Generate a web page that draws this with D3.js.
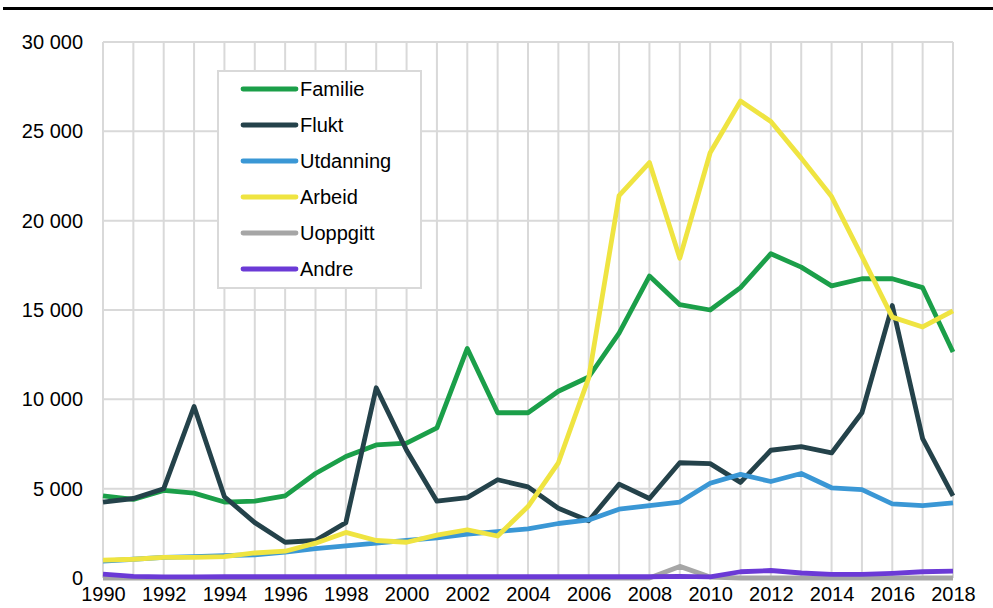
<!DOCTYPE html>
<html><head><meta charset="utf-8">
<script src="https://cdn.jsdelivr.net/npm/d3@7"></script>
<style>body{margin:0;background:#fff}svg{display:block;font-family:"Liberation Sans",Arial,sans-serif}</style>
</head><body><svg id="c" width="993" height="608"></svg>
<script>
const years = d3.range(1990, 2019);
const xTickLabels = [1990,1992,1994,1996,1998,2000,2002,2004,2006,2008,2010,2012,2014,2016,2018];
const yTicks = [0,5000,10000,15000,20000,25000,30000];
const seriesNames = ["Familie","Flukt","Utdanning","Arbeid","Uoppgitt","Andre"];
const seriesColors = ["#1b9f49","#24424a","#3a97d5","#efe441","#a6a6a6","#6b3ad6"];
const familie = [4600,4400,4900,4750,4250,4300,4600,5850,6800,7450,7550,8400,12850,9250,9250,10450,11250,13700,16900,15300,15000,16250,18150,17400,16350,16750,16750,16250,12650];
const flukt = [4250,4450,5000,9600,4550,3100,2000,2100,3100,10650,7150,4300,4500,5500,5100,3900,3200,5250,4450,6450,6400,5350,7150,7350,7000,9250,15250,7800,4600];
const utdanning = [950,1050,1150,1200,1250,1300,1450,1650,1800,1950,2100,2250,2450,2600,2750,3050,3250,3850,4050,4250,5300,5800,5400,5850,5050,4950,4150,4050,4200];
const arbeid = [1000,1050,1150,1150,1200,1400,1500,1950,2550,2100,2000,2400,2700,2350,4000,6450,11200,21400,23250,17900,23800,26700,25550,23500,21350,18000,14600,14050,14950];
const uoppgitt = [0,0,0,0,0,0,0,0,0,0,0,0,0,0,0,0,0,0,0,650,50,0,0,0,0,0,0,0,0];
const andre = [220,90,60,60,70,70,70,70,70,70,70,70,70,70,70,70,70,70,70,90,60,350,420,280,200,200,260,350,380];
const allSeries = [familie, flukt, utdanning, arbeid, uoppgitt, andre];

const svg = d3.select("#c");
const x = d3.scaleLinear().domain([1990,2018]).range([103,953]);
const y = d3.scaleLinear().domain([0,30000]).range([578,42]);

// title rule
svg.append("line").attr("x1",3).attr("x2",993).attr("y1",8.5).attr("y2",8.5).attr("stroke","#000").attr("stroke-width",3);

const grid = svg.append("g");
grid.selectAll("line.v").data(years).join("line")
  .attr("x1",d=>x(d)).attr("x2",d=>x(d)).attr("y1",y(30000)).attr("y2",y(0))
  .attr("stroke","#d9d9d9").attr("stroke-width",2);
grid.selectAll("line.h").data(yTicks).join("line")
  .attr("x1",x(1990)).attr("x2",x(2018)).attr("y1",d=>y(d)).attr("y2",d=>y(d))
  .attr("stroke","#d9d9d9").attr("stroke-width",2);

const fmt = d => d === 0 ? "0" : d3.format(",")(d).replace(/,/g," ");
const yAxis = d3.axisLeft(y).tickValues(yTicks).tickFormat(fmt).tickSize(0).tickPadding(20);
const ya = svg.append("g").attr("transform",`translate(${x(1990)},0)`).call(yAxis);
ya.select(".domain").remove();
ya.selectAll("text").attr("font-size",20).attr("fill","#000").attr("font-family","Liberation Sans, Arial, sans-serif");

const xAxis = d3.axisBottom(x).tickValues(xTickLabels).tickFormat(d3.format("d")).tickSize(0).tickPadding(9);
const xa = svg.append("g").attr("transform",`translate(0,${y(0)})`).call(xAxis);
xa.select(".domain").remove();
xa.selectAll("text").attr("font-size",20).attr("fill","#000").attr("font-family","Liberation Sans, Arial, sans-serif");

const line = d3.line().x((d,i)=>x(years[i])).y(d=>y(d));
allSeries.forEach((s,k)=>{
  svg.append("path").attr("d",line(s)).attr("fill","none")
    .attr("stroke",seriesColors[k]).attr("stroke-width",4.8).attr("stroke-linejoin","round");
});

// legend
const lg = svg.append("g");
lg.append("rect").attr("x",218).attr("y",71).attr("width",203).attr("height",217)
  .attr("fill","#fff").attr("stroke","#d9d9d9").attr("stroke-width",2);
seriesNames.forEach((n,k)=>{
  const yy = 89 + k*36;
  lg.append("line").attr("x1",243).attr("x2",296).attr("y1",yy).attr("y2",yy)
    .attr("stroke",seriesColors[k]).attr("stroke-width",4.8).attr("stroke-linecap","round");
  lg.append("text").attr("x",300).attr("y",yy).attr("dy","0.35em").attr("font-size",20).attr("fill","#000").text(n);
});
</script></body></html>
